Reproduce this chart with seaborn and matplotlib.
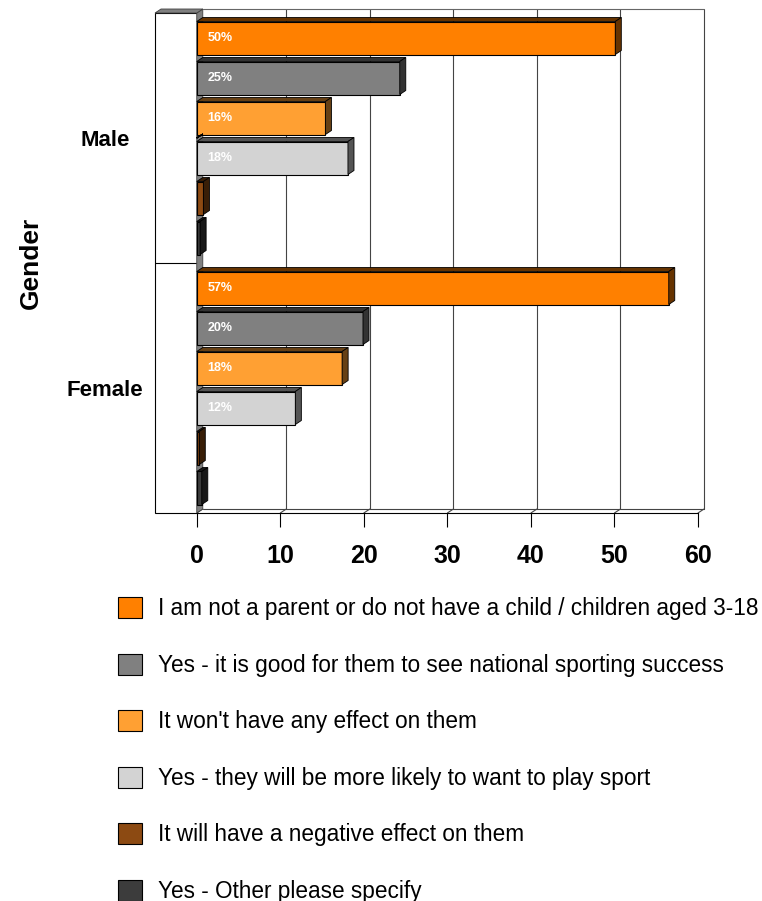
import pandas as pd
import numpy as np
import matplotlib.pyplot as plt
import matplotlib.colors as mcolors
from matplotlib.patches import Polygon, Rectangle
import seaborn as sns

# ====================================
# DATA
# ====================================

genders = ["Male", "Female"]

responses = [
    "I am not a parent or do not have a child / children aged 3-18",
    "Yes - it is good for them to see national sporting success",
    "It won't have any effect on them",
    "Yes - they will be more likely to want to play sport",
    "It will have a negative effect on them",
    "Yes - Other please specify",
]

male_pct = [50.1, 24.3, 15.4, 18.1, 0.8, 0.4]
female_pct = [56.5, 19.9, 17.4, 11.8, 0.3, 0.6]

male_labels = ["50%", "25%", "16%", "18%", "", ""]
female_labels = ["57%", "20%", "18%", "12%", "", ""]

xticks = [0, 10, 20, 30, 40, 50, 60]

colors = ["#FF8000", "#808080", "#FFA033", "#D3D3D3", "#8C4A12", "#3C3C3C"]

df = pd.DataFrame({
    "Gender": ["Male"] * len(responses) + ["Female"] * len(responses),
    "Response": responses * 2,
    "Percent": male_pct + female_pct,
})

# ====================================
# PLOT
# ====================================

sns.set_style("white")
plt.rcParams["font.family"] = ["Liberation Sans", "DejaVu Sans"]
plt.rcParams["text.color"] = "black"
plt.rcParams["axes.labelcolor"] = "black"
plt.rcParams["xtick.color"] = "black"
plt.rcParams["ytick.color"] = "black"

fig = plt.figure(figsize=(7.62, 9.01), dpi=100)
ax = fig.add_axes([155 / 762, 1 - 513 / 901, 548 / 762, 500 / 901])

sns.barplot(
    data=df, y="Gender", x="Percent", hue="Response",
    order=genders, hue_order=responses, palette=colors, saturation=1,
    orient="h", width=0.96, gap=0.175, errorbar=None,
    edgecolor="black", linewidth=0.8, ax=ax
)

ax.set_xlim(-5, 60.6)
ax.set_ylim(1.5, -0.5)

# depth of the fake 3d effect (data units)
dx = 0.72
dy = 0.016

# 3d faces for each bar
for bar in list(ax.patches):
    x0, y0 = bar.get_x(), bar.get_y()
    w, h = bar.get_width(), bar.get_height()
    fc = np.array(mcolors.to_rgb(bar.get_facecolor()))
    side = fc * 0.4
    top = Polygon([(x0, y0), (x0 + w, y0), (x0 + w + dx, y0 - dy), (x0 + dx, y0 - dy)],
                  closed=True, facecolor=side, edgecolor="black", linewidth=0.6, zorder=2)
    right = Polygon([(x0 + w, y0), (x0 + w + dx, y0 - dy), (x0 + w + dx, y0 + h - dy), (x0 + w, y0 + h)],
                    closed=True, facecolor=side, edgecolor="black", linewidth=0.6, zorder=2)
    ax.add_patch(top)
    ax.add_patch(right)

# value labels inside the bars
labels_by_gender = {"Male": male_labels, "Female": female_labels}
for i, cont in enumerate(ax.containers):
    for bar in cont:
        yc = bar.get_y() + bar.get_height() / 2
        g = genders[int(round(yc))]
        txt = labels_by_gender[g][i]
        if txt:
            ax.text(1.3, yc, txt, color="white", fontsize=9, fontweight="bold",
                    ha="left", va="center", zorder=3)

# left wall
ax.add_patch(Rectangle((-5, -0.5), 5, 2.0, facecolor="white", edgecolor="black",
                       linewidth=0.8, zorder=0.5, clip_on=False))
ax.plot([-5, 0], [0.5, 0.5], color="black", linewidth=0.8, zorder=0.6)
ax.add_patch(Polygon([(0, -0.5), (dx, -0.5 - dy), (dx, 1.5 - dy), (0, 1.5)], closed=True,
                     facecolor="#808080", edgecolor="#404040", linewidth=0.6, zorder=0.7, clip_on=False))
ax.add_patch(Polygon([(-5, -0.5), (0, -0.5), (dx, -0.5 - dy), (-5 + dx, -0.5 - dy)], closed=True,
                     facecolor="#808080", edgecolor="#404040", linewidth=0.6, zorder=0.7, clip_on=False))

# back grid and floor
for v in xticks[1:]:
    ax.plot([v + dx, v + dx], [-0.5 - dy, 1.5 - dy], color="#444444", linewidth=0.8,
            zorder=0.4, clip_on=False)
ax.plot([dx, 60 + dx], [-0.5 - dy, -0.5 - dy], color="#666666", linewidth=0.8, zorder=0.4, clip_on=False)
ax.plot([dx, 60 + dx], [1.5 - dy, 1.5 - dy], color="#444444", linewidth=0.8, zorder=0.4, clip_on=False)
for v in xticks:
    ax.plot([v, v + dx], [1.5, 1.5 - dy], color="#444444", linewidth=0.8, zorder=0.4, clip_on=False)

# axes styling
for s in ["top", "right", "left"]:
    ax.spines[s].set_visible(False)
ax.spines["bottom"].set_bounds(0, 60)
ax.spines["bottom"].set_color("black")
ax.spines["bottom"].set_linewidth(0.8)

ax.set_xticks(xticks)
ax.set_xticklabels([str(t) for t in xticks], fontsize=18, fontweight="bold")
ax.tick_params(axis="x", bottom=True, direction="out", length=10, width=0.8,
               color="black", pad=12)
ax.set_xlabel("")

ax.set_yticks([0, 1])
ax.set_yticklabels(genders, fontsize=16, fontweight="bold")
ax.tick_params(axis="y", left=False, length=0, pad=36)
for lbl in ax.get_yticklabels():
    lbl.set_ha("center")

ax.set_ylabel("Gender", fontsize=19, fontweight="bold")
ax.yaxis.set_label_coords((31 - 155) / 548, 0.5)
ax.yaxis.label.set_va("center")

# legend below the chart
sns.move_legend(
    ax, "upper left",
    bbox_to_anchor=(118 / 762, 1 - 597 / 901), bbox_transform=fig.transFigure,
    frameon=False, title=None, fontsize=16.3,
    handlelength=1.05, handleheight=1.05, handletextpad=0.7,
    labelspacing=1.47, borderaxespad=0, borderpad=0
)

fig.savefig("out.png", dpi=100)
